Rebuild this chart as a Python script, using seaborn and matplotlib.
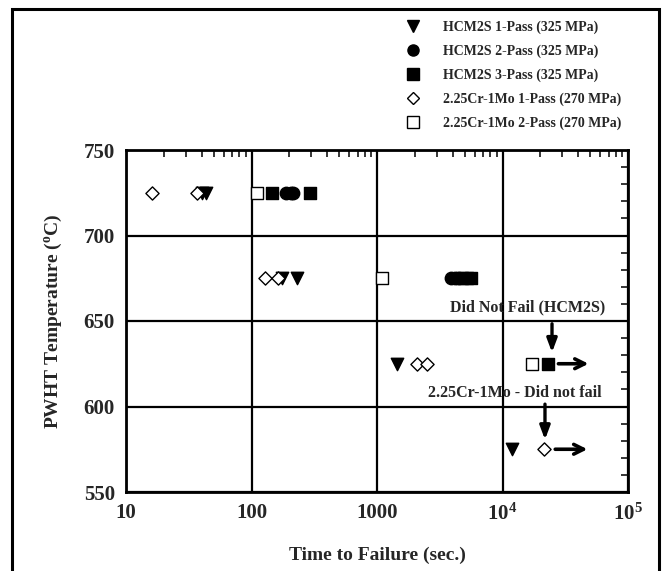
import numpy as np
import pandas as pd
import matplotlib
matplotlib.use('Agg')
import matplotlib.pyplot as plt
import seaborn as sns
from matplotlib.lines import Line2D
from matplotlib.patches import Rectangle
from matplotlib.ticker import FixedLocator, NullFormatter

# 数据: 失效时间 (s) 与 PWHT 温度 (°C)
hcm1_time = [40, 43, 174, 229, 1440, 12000]
hcm1_temp = [725, 725, 675, 675, 625, 575]
hcm2_time = [190, 205, 215, 3900, 4200, 4500]
hcm2_temp = [725, 725, 725, 675, 675, 675]
hcm3_time = [145, 292, 4800, 5200, 5600, 23000]
hcm3_temp = [725, 725, 675, 675, 675, 625]
cr1_time = [16, 37, 128, 163, 2090, 2520, 21500]
cr1_temp = [725, 725, 675, 675, 625, 625, 575]
cr2_time = [110, 1100, 17200]
cr2_temp = [725, 675, 625]

labels = ['HCM2S 1-Pass (325 MPa)', 'HCM2S 2-Pass (325 MPa)', 'HCM2S 3-Pass (325 MPa)',
          '2.25Cr-1Mo 1-Pass (270 MPa)', '2.25Cr-1Mo 2-Pass (270 MPa)']
x_ticks = [10, 100, 1000, 1e4, 1e5]
x_ticklabels = ['10', '100', '1000', r'$\mathbf{10^4}$', r'$\mathbf{10^5}$']
y_ticks = [550, 600, 650, 700, 750]

sns.set_style('white')
plt.rcParams['font.family'] = ['Liberation Serif', 'DejaVu Serif']
plt.rcParams['font.weight'] = 'bold'
plt.rcParams['mathtext.fontset'] = 'custom'
plt.rcParams['mathtext.rm'] = 'Liberation Serif:bold'
plt.rcParams['mathtext.bf'] = 'Liberation Serif:bold'
plt.rcParams['mathtext.it'] = 'Liberation Serif:bold'

series = [
    (hcm1_time, hcm1_temp, 'v', 'black', 80),
    (hcm2_time, hcm2_temp, 'o', 'black', 80),
    (hcm3_time, hcm3_temp, 's', 'black', 70),
    (cr1_time, cr1_temp, 'D', 'white', 45),
    (cr2_time, cr2_temp, 's', 'white', 70),
]

fig = plt.figure(figsize=(6.64, 5.71), dpi=100)
ax = fig.add_axes([126 / 664, 1 - 492 / 571, (628 - 126) / 664, (492 - 150) / 571])

handles = []
for (t, T, m, fc, s), lab in zip(series, labels):
    df = pd.DataFrame({'time': t, 'temp': T})
    sns.scatterplot(data=df, x='time', y='temp', marker=m, s=s, color=fc,
                    edgecolor='black', linewidth=1.0, ax=ax, zorder=3, legend=False)
    handles.append(Line2D([], [], ls='none', marker=m, markersize=8 if m != 'D' else 6.5,
                          markerfacecolor=fc, markeredgecolor='black', markeredgewidth=1.0,
                          label=lab))

ax.set_xscale('log')
ax.set_xlim(10, 1e5)
ax.set_ylim(550, 750)
ax.set_xticks(x_ticks)
ax.set_xticklabels(x_ticklabels)
ax.set_yticks(y_ticks)
ax.xaxis.set_minor_locator(FixedLocator([k * 10 ** e for e in range(1, 5) for k in range(2, 10)]))
ax.xaxis.set_minor_formatter(NullFormatter())
ax.yaxis.set_minor_locator(FixedLocator(np.arange(550, 751, 10)))
ax.grid(True, which='major', color='black', lw=1.6)
ax.tick_params(which='both', direction='in', top=True, right=True, labelsize=15, pad=8)
ax.tick_params(which='major', length=0)
ax.tick_params(which='minor', length=5, width=1.3)
for sp in ax.spines.values():
    sp.set_linewidth(2)
    sp.set_color('black')
for lab in ax.get_xticklabels() + ax.get_yticklabels():
    lab.set_fontweight('bold')

ax.set_xlabel('Time to Failure (sec.)', fontsize=14, fontweight='bold', labelpad=16)
ax.set_ylabel(r'PWHT Temperature ($^{\mathbf{o}}$C)', fontsize=14, fontweight='bold', labelpad=14)

# 未失效标注
h_arrow = dict(arrowstyle='->,head_length=0.7,head_width=0.35', color='black', lw=2.6)
v_arrow = dict(arrowstyle='-|>,head_length=0.8,head_width=0.3', color='black', lw=2.4)
ax.annotate('', xy=(51000, 625), xytext=(26500, 625), arrowprops=h_arrow, zorder=4)
ax.annotate('', xy=(50000, 575), xytext=(25000, 575), arrowprops=h_arrow, zorder=4)
ax.text(15900, 658, 'Did Not Fail (HCM2S)', ha='center', va='center', fontsize=11.5, fontweight='bold')
ax.annotate('', xy=(24800, 630), xytext=(24800, 650), arrowprops=v_arrow, zorder=4)
ax.text(12600, 608, '2.25Cr-1Mo - Did not fail', ha='center', va='center', fontsize=11.5, fontweight='bold')
ax.annotate('', xy=(21800, 579), xytext=(21800, 603), arrowprops=v_arrow, zorder=4)

fig.legend(handles=handles, loc='upper left', bbox_to_anchor=(387 / 664, 1 - 8 / 571),
           frameon=False, handletextpad=1.1, labelspacing=0.75,
           prop={'weight': 'bold', 'size': 10})

fig.patches.append(Rectangle((12 / 664, -0.05), (659 - 12) / 664, 1.05 - 9 / 571,
                             transform=fig.transFigure, fill=False, lw=2.2, ec='black'))

fig.savefig('out.png', dpi=100)
